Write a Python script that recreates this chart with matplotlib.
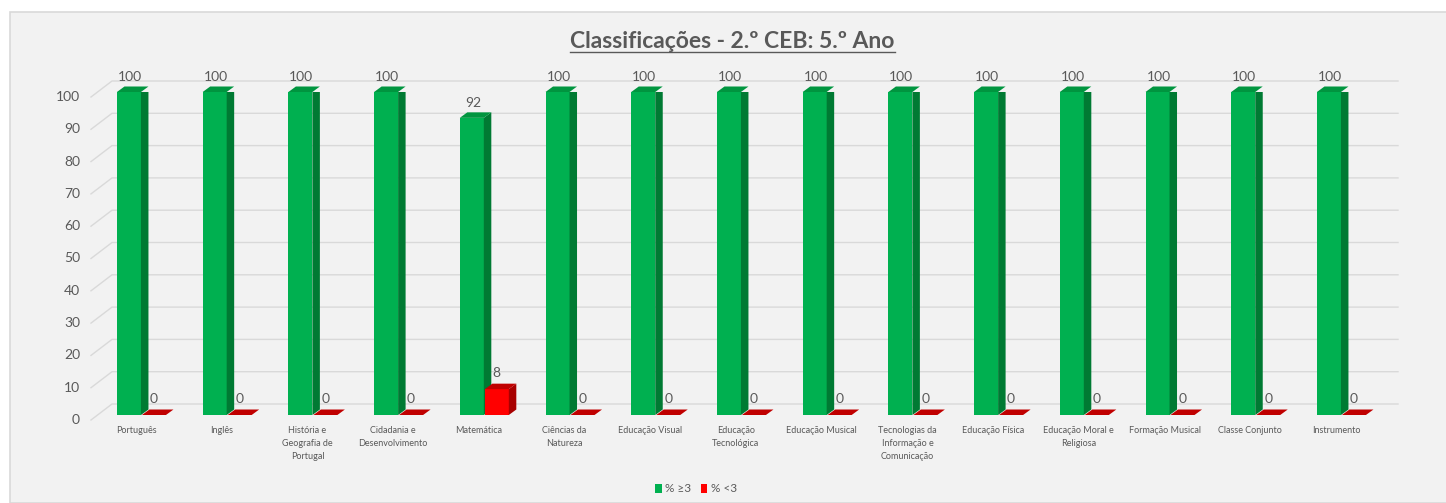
import matplotlib
matplotlib.use("Agg")
import matplotlib.pyplot as plt
from matplotlib.patches import Polygon, Rectangle, Patch
from matplotlib.lines import Line2D

plt.rcParams['font.family'] = ['Lato', 'DejaVu Sans']

categories = ["Português", "Inglês", "História e\nGeografia de\nPortugal", "Cidadania e\nDesenvolvimento",
              "Matemática", "Ciências da\nNatureza", "Educação Visual", "Educação\nTecnológica",
              "Educação Musical", "Tecnologias da\nInformação e\nComunicação", "Educação Física",
              "Educação Moral e\nReligiosa", "Formação Musical", "Classe Conjunto", "Instrumento"]
pos_vals = [100, 100, 100, 100, 92, 100, 100, 100, 100, 100, 100, 100, 100, 100, 100]
neg_vals = [0, 0, 0, 0, 8, 0, 0, 0, 0, 0, 0, 0, 0, 0, 0]
series_names = ["% ≥3", "% <3"]
yticks = list(range(0, 101, 10))
title = "Classificações - 2.º CEB: 5.º Ano"

W, H = 1446, 503
fig = plt.figure(figsize=(W / 100, H / 100), dpi=100, facecolor='white')

# chart area background
fig.add_artist(Rectangle((10 / W, 0), (W + 20) / W, (H - 12) / H, transform=fig.transFigure,
                         facecolor='#f2f2f2', edgecolor='#d9d9d9', lw=1.2, zorder=0))

X0, PPX = 98.1, 85.714
Y0, PPY = 415.0, 3.23
def px2x(px):
    return (px - X0) / PPX - 0.5
def py2y(py):
    return (Y0 - py) / PPY

ax = fig.add_axes([X0 / W, (H - Y0) / H, 15 * PPX / W, 100 * PPY / H])
ax.set_xlim(-0.5, 14.5)
ax.set_ylim(0, 100)
ax.set_facecolor('none')
for s in ax.spines.values():
    s.set_visible(False)
ax.set_xticks([])
ax.set_yticks([])

grid_c = '#d9d9d9'
txt_c = '#595959'
# gridlines (back wall + diagonal to front)
for v in yticks:
    yb = v + 11 / PPY
    yf = v - 5 / PPY
    ax.add_line(Line2D([px2x(91), px2x(112), px2x(1398)], [yf, yb, yb], color=grid_c, lw=1.0,
                       clip_on=False, zorder=1))
    ax.text(px2x(80), yf, str(v), ha='right', va='center', fontsize=10, color=txt_c)

bw = 24 / PPX
dx = 7.5 / PPX
dy = 5.5 / PPY

def bar3d(xl, h, front, side, top, z):
    xr = xl + bw
    ax.add_patch(Rectangle((xl, 0), bw, h, facecolor=front, edgecolor='none', zorder=z))
    if h > 0:
        ax.add_patch(Polygon([(xr, 0), (xr, h), (xr + dx, h + dy), (xr + dx, dy)], closed=True,
                             facecolor=side, edgecolor='none', zorder=z))
    ax.add_patch(Polygon([(xl, h), (xr, h), (xr + dx, h + dy), (xl + dx, h + dy)], closed=True,
                         facecolor=top, edgecolor='none', zorder=z, clip_on=False))

for i, (p, n) in enumerate(zip(pos_vals, neg_vals)):
    bar3d(i - bw, p, '#00b050', '#007a33', '#00953f', 3)
for i, (p, n) in enumerate(zip(pos_vals, neg_vals)):
    bar3d(i + 1 / PPX, n, '#ff0000', '#a80000', '#c00000', 4)

for i, (p, n) in enumerate(zip(pos_vals, neg_vals)):
    ax.text(i - bw / 2 + 1 / PPX, p + 15 / PPY, str(p), ha='center', va='center', fontsize=10,
            color=txt_c, zorder=6, clip_on=False)
    ax.text(i + 1 / PPX + bw / 2, n + 16 / PPY, str(n), ha='center', va='center', fontsize=10,
            color=txt_c, zorder=6, clip_on=False)

for i, c in enumerate(categories):
    ax.text(i - 5 / PPX, py2y(426), c, ha='center', va='top', fontsize=6.5, color=txt_c,
            linespacing=1.6, clip_on=False)

t = fig.text(732.5 / W, 1 - 42 / H, title, ha='center', va='center', fontsize=16.5,
             fontweight='bold', color=txt_c)

handles = [Patch(facecolor='#00b050', edgecolor='none'), Patch(facecolor='#ff0000', edgecolor='none')]
fig.legend(handles, series_names, loc='center', bbox_to_anchor=(696 / W, 1 - 489 / H), ncol=2,
           frameon=False, fontsize=8.5, handlelength=0.55, handleheight=0.8, handletextpad=0.3,
           columnspacing=0.8, labelcolor=txt_c)

fig.canvas.draw()
bb = t.get_window_extent()
yline = bb.y0 + 1
fig.add_artist(Line2D([bb.x0 / W, bb.x1 / W], [yline / H, yline / H], color=txt_c, lw=1.0,
                      transform=fig.transFigure))

fig.savefig('out.png', dpi=100, facecolor='white')
